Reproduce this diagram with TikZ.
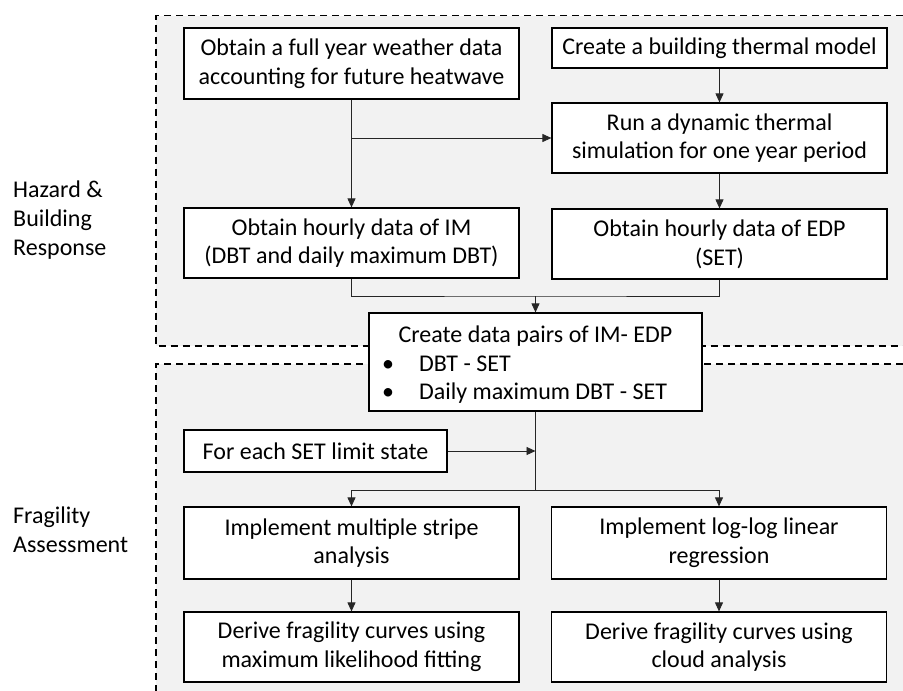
\documentclass[tikz,border=0pt]{standalone}
\usepackage{fontspec}
\setmainfont{Carlito}
\usetikzlibrary{arrows.meta}
\definecolor{panelgrey}{HTML}{F2F2F2}
\begin{document}
\begin{tikzpicture}[x=1pt,y=-1pt,
  font=\fontsize{24}{28.8}\selectfont,
  stepbox/.style={draw=black, line width=1.2pt, fill=white, align=center, inner sep=0pt},
  conn/.style={draw=black!85, line width=0.9pt},
  arr/.style={conn, -{Triangle[width=8pt,length=9pt]}},
  panel/.style={draw=black, line width=1.3pt, dash pattern=on 7pt off 5pt},
  sidelabel/.style={anchor=base west, align=left, inner sep=0pt}]
\useasboundingbox (0,0) rectangle (903,691);

% shaded stage panels with dashed borders
\fill[panelgrey] (156,15.7) rectangle (903,346);
\fill[panelgrey] (156,364) rectangle (903,691);
\draw[panel] (903,15.7) -- (156,15.7) -- (156,346) -- (903,346);
\draw[panel] (903,364) -- (156,364) -- (156,691);

% stage labels (anchored at the baseline of the last line)
\node[sidelabel] (lab1) at (13,255) {Hazard \&\\Building\\Response};
\node[sidelabel] (lab2) at (13,552) {Fragility\\Assessment};

% process steps
\node[stepbox, minimum width=335pt, minimum height=71pt] (A) at (351.5,63.5)
  {Obtain a full year weather data\\accounting for future heatwave};
\node[stepbox, minimum width=335pt, minimum height=40pt] (B) at (719.5,48)
  {Create a building thermal model};
\node[stepbox, minimum width=335pt, minimum height=70pt] (C) at (719.5,138)
  {Run a dynamic thermal\\simulation for one year period};
\node[stepbox, minimum width=335pt, minimum height=70pt] (D) at (351.5,243)
  {Obtain hourly data of IM\\(DBT and daily maximum DBT)};
\node[stepbox, minimum width=335pt, minimum height=70pt] (E) at (719.5,244)
  {Obtain hourly data of EDP\\(SET)};
\node[stepbox, minimum width=333pt, minimum height=98pt] (F) at (535.5,362) {};
\node[anchor=base, inner sep=0pt] (F0) at (535.5,342) {Create data pairs of IM- EDP};
\node[anchor=base west, inner sep=0pt] (F1) at (382,371) {\makebox[37pt][l]{•}DBT - SET};
\node[anchor=base west, inner sep=0pt] (F2) at (382,399) {\makebox[37pt][l]{•}Daily maximum DBT - SET};
\node[stepbox, minimum width=263pt, minimum height=42pt] (G) at (315.5,451)
  {For each SET limit state};
\node[stepbox, minimum width=335pt, minimum height=72pt] (H) at (351.5,543)
  {Implement multiple stripe\\analysis};
\node[stepbox, minimum width=335pt, minimum height=72pt] (I) at (719,543)
  {Implement log-log linear\\regression};
\node[stepbox, minimum width=335pt, minimum height=70pt] (J) at (351.5,647)
  {Derive fragility curves using\\maximum likelihood fitting};
\node[stepbox, minimum width=335pt, minimum height=70pt] (K) at (719,647)
  {Derive fragility curves using\\cloud analysis};

% junction points
\coordinate (j1) at (535.5,296);
\coordinate (j2) at (535.5,490);

% connectors
\draw[arr] (A) -- (D);
\draw[arr] (A.south |- C.west) -- (C.west);
\draw[arr] (B) -- (C);
\draw[arr] (C) -- (E);
\draw[conn] (D.south) |- (j1) -| (E.south);
\draw[arr] (j1) -- (F.north);
\draw[conn] (F.south) -- (j2);
\draw[arr] (G.east) -- (F.south |- G.east);
\draw[arr] (j2) -| (H.north);
\draw[arr] (j2) -| (I.north);
\draw[arr] (H) -- (J);
\draw[arr] (I) -- (K);
\end{tikzpicture}
\end{document}
